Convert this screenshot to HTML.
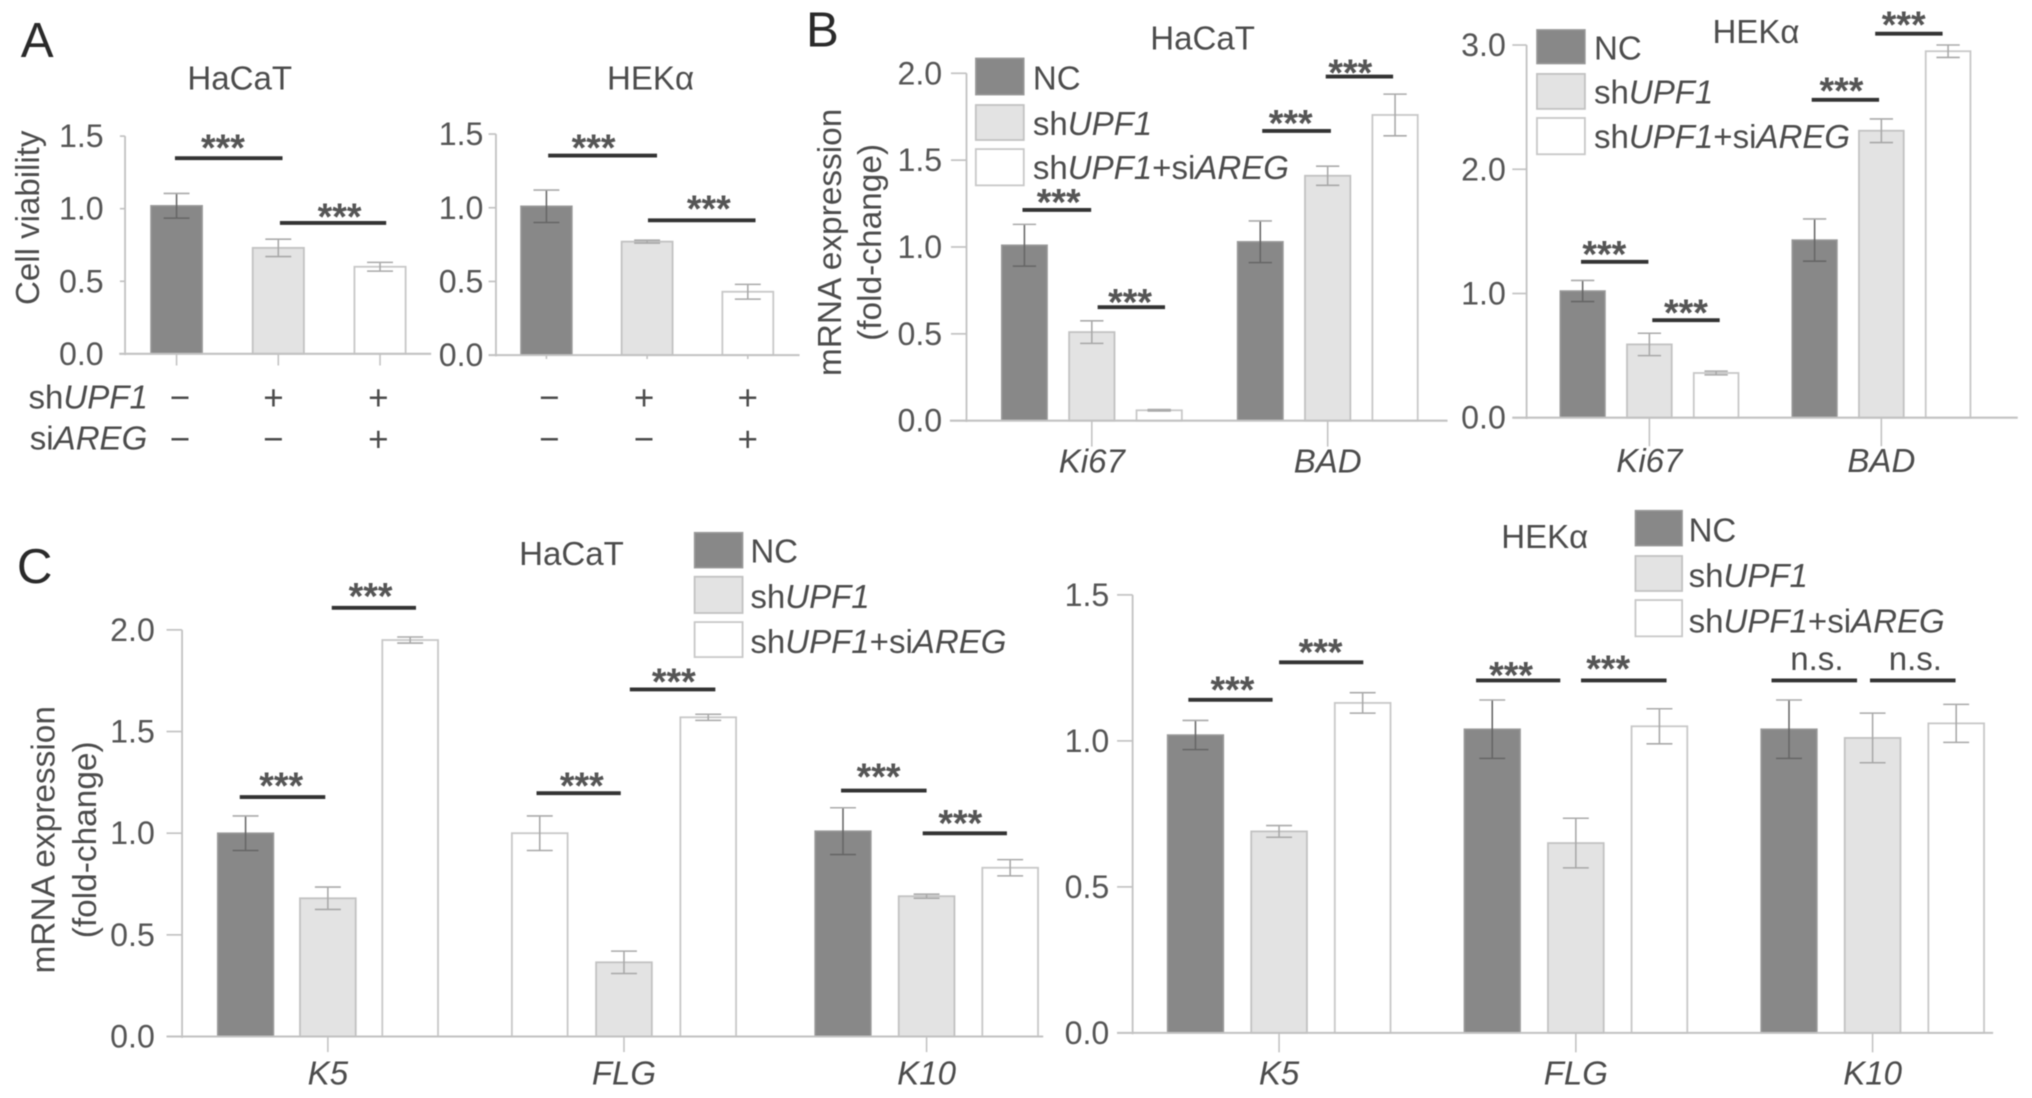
<!DOCTYPE html>
<html lang="en">
<head>
<meta charset="utf-8">
<title>Cell viability and mRNA expression bar charts</title>
<style>
html,body{margin:0;padding:0;background:#fff;width:2032px;height:1098px;overflow:hidden}
svg{display:block;filter:blur(0.6px)}
text{font-family:"Liberation Sans",sans-serif;fill:#4c4c4c;font-size:25.5px}
.i{font-style:italic}
.letter{font-size:38px;fill:#2a2a2a}
.star{font-size:29px;fill:#555;text-anchor:middle;font-weight:bold}
.ns{font-size:25.5px;text-anchor:middle}
.title{text-anchor:middle}
.axt{font-size:25.8px;text-anchor:middle}
.tick-label{font-size:24.8px;fill:#555}
.sign{text-anchor:middle;font-size:27px}
.sig{stroke:#333;stroke-width:3}
.c0{fill:#888;stroke:#999;stroke-width:1.2}
.c1{fill:#e3e3e3;stroke:#c2c2c2;stroke-width:1.4}
.c2{fill:#fff;stroke:#c8c8c8;stroke-width:1.4}
</style>
</head>
<body>
<svg id="figure" xmlns="http://www.w3.org/2000/svg" width="2032" height="1098" viewBox="0 0 1568 847.2">
  <text class="letter" x="16" y="44">A</text>
  <text class="letter" x="622" y="36">B</text>
  <text class="letter" x="13" y="450">C</text>

  <text class="title" x="185" y="69">HaCaT</text>
  <text class="title" x="502" y="69">HEKα</text>
  <text class="title" x="928" y="38">HaCaT</text>
  <text class="title" x="1355" y="33">HEKα</text>
  <text class="title" x="441" y="436">HaCaT</text>
  <text class="title" x="1192" y="423">HEKα</text>

  <text transform="translate(30,168) rotate(-90)" text-anchor="middle">Cell viability</text>
  <text class="axt" transform="translate(649,187) rotate(-90)">mRNA expression</text>
  <text class="axt" transform="translate(680,187) rotate(-90)">(fold-change)</text>
  <text class="axt" transform="translate(42,648) rotate(-90)">mRNA expression</text>
  <text class="axt" transform="translate(74,648) rotate(-90)">(fold-change)</text>

  <!-- treatment rows, panel A -->
  <text x="22" y="315">sh<tspan class="i">UPF1</tspan></text>
  <text x="23" y="347">si<tspan class="i">AREG</tspan></text>
  <g>
    <text class="sign" x="139" y="316">−</text>
    <text class="sign" x="211" y="316">+</text>
    <text class="sign" x="292" y="316">+</text>
    <text class="sign" x="139" y="348">−</text>
    <text class="sign" x="211" y="348">−</text>
    <text class="sign" x="292" y="348">+</text>
    <text class="sign" x="424" y="316">−</text>
    <text class="sign" x="497" y="316">+</text>
    <text class="sign" x="577" y="316">+</text>
    <text class="sign" x="424" y="348">−</text>
    <text class="sign" x="497" y="348">−</text>
    <text class="sign" x="577" y="348">+</text>
  </g>

  <!-- legends -->
  <g>
    <rect class="c0" x="753" y="45" width="37" height="28"/>
    <rect class="c1" x="753" y="81" width="37" height="27"/>
    <rect class="c2" x="753" y="115" width="37" height="28"/>
    <text x="797" y="69">NC</text>
    <text x="797" y="104">sh<tspan class="i">UPF1</tspan></text>
    <text x="797" y="138">sh<tspan class="i">UPF1</tspan>+si<tspan class="i">AREG</tspan></text>
  </g>
  <g>
    <rect class="c0" x="1186" y="23" width="37" height="26"/>
    <rect class="c1" x="1186" y="57" width="37" height="27"/>
    <rect class="c2" x="1186" y="91" width="37" height="28"/>
    <text x="1230" y="46">NC</text>
    <text x="1230" y="80">sh<tspan class="i">UPF1</tspan></text>
    <text x="1230" y="114">sh<tspan class="i">UPF1</tspan>+si<tspan class="i">AREG</tspan></text>
  </g>
  <g>
    <rect class="c0" x="536" y="411" width="37" height="27"/>
    <rect class="c1" x="536" y="445" width="37" height="28"/>
    <rect class="c2" x="536" y="480" width="37" height="27"/>
    <text x="579" y="434">NC</text>
    <text x="579" y="469">sh<tspan class="i">UPF1</tspan></text>
    <text x="579" y="504">sh<tspan class="i">UPF1</tspan>+si<tspan class="i">AREG</tspan></text>
  </g>
  <g>
    <rect class="c0" x="1262" y="394" width="36" height="27"/>
    <rect class="c1" x="1262" y="429" width="36" height="27"/>
    <rect class="c2" x="1262" y="463" width="36" height="28"/>
    <text x="1303" y="418">NC</text>
    <text x="1303" y="453">sh<tspan class="i">UPF1</tspan></text>
    <text x="1303" y="488">sh<tspan class="i">UPF1</tspan>+si<tspan class="i">AREG</tspan></text>
  </g>

  <g id="plots"></g>

  <!-- significance annotations -->
  <g>
    <line class="sig" x1="135" x2="218" y1="122" y2="122"/><text class="star" x="172" y="124">***</text>
    <line class="sig" x1="216" x2="298" y1="172" y2="172"/><text class="star" x="262" y="177">***</text>
    <line class="sig" x1="423" x2="507" y1="120" y2="120"/><text class="star" x="458" y="124">***</text>
    <line class="sig" x1="500" x2="583" y1="170" y2="170"/><text class="star" x="547" y="171">***</text>

    <line class="sig" x1="789" x2="842" y1="162" y2="162"/><text class="star" x="817" y="166">***</text>
    <line class="sig" x1="847" x2="899" y1="237" y2="237"/><text class="star" x="872" y="243">***</text>
    <line class="sig" x1="974" x2="1027" y1="101" y2="101"/><text class="star" x="996" y="105">***</text>
    <line class="sig" x1="1023" x2="1075" y1="59" y2="59"/><text class="star" x="1042" y="66">***</text>

    <line class="sig" x1="1220" x2="1272" y1="202" y2="202"/><text class="star" x="1238" y="206">***</text>
    <line class="sig" x1="1275" x2="1327" y1="247" y2="247"/><text class="star" x="1301" y="251">***</text>
    <line class="sig" x1="1398" x2="1450" y1="77" y2="77"/><text class="star" x="1421" y="80">***</text>
    <line class="sig" x1="1447" x2="1499" y1="26" y2="26"/><text class="star" x="1469" y="29">***</text>

    <line class="sig" x1="185" x2="251" y1="615" y2="615"/><text class="star" x="217" y="616">***</text>
    <line class="sig" x1="256" x2="321" y1="469" y2="469"/><text class="star" x="286" y="470">***</text>
    <line class="sig" x1="414" x2="479" y1="612" y2="612"/><text class="star" x="449" y="616">***</text>
    <line class="sig" x1="486" x2="552" y1="532" y2="532"/><text class="star" x="520" y="536">***</text>
    <line class="sig" x1="649" x2="715" y1="610" y2="610"/><text class="star" x="678" y="609">***</text>
    <line class="sig" x1="712" x2="777" y1="643" y2="643"/><text class="star" x="741" y="645">***</text>

    <line class="sig" x1="917" x2="982" y1="540" y2="540"/><text class="star" x="951" y="542">***</text>
    <line class="sig" x1="987" x2="1052" y1="511" y2="511"/><text class="star" x="1019" y="513">***</text>
    <line class="sig" x1="1139" x2="1204" y1="525" y2="525"/><text class="star" x="1166" y="531">***</text>
    <line class="sig" x1="1220" x2="1286" y1="525" y2="525"/><text class="star" x="1241" y="526">***</text>
    <line class="sig" x1="1367" x2="1433" y1="525" y2="525"/><text class="ns" x="1402" y="517">n.s.</text>
    <line class="sig" x1="1443" x2="1509" y1="525" y2="525"/><text class="ns" x="1478" y="517">n.s.</text>
  </g>
</svg>
<script>
// ----- chart data -----
const viabilityTicks = ['0.0', '0.5', '1.0', '1.5'];
const viabilityTickValues = [0, 0.5, 1.0, 1.5];
const aHacatValues = [[1.02], [0.73], [0.60]];
const aHacatErrors = [[0.085], [0.06], [0.03]];
const aHekaValues = [[1.01], [0.77], [0.43]];
const aHekaErrors = [[0.11], [0.01], [0.05]];

const bHacatTicks = ['0.0', '0.5', '1.0', '1.5', '2.0'];
const bHacatTickValues = [0, 0.5, 1.0, 1.5, 2.0];
const bCategories = ['Ki67', 'BAD'];
const bHacatValues = [[1.01, 0.51, 0.06], [1.03, 1.41, 1.76]];
const bHacatErrors = [[0.12, 0.065, 0.004], [0.12, 0.055, 0.12]];

const bHekaTicks = ['0.0', '1.0', '2.0', '3.0'];
const bHekaTickValues = [0, 1.0, 2.0, 3.0];
const bHekaValues = [[1.02, 0.59, 0.36], [1.43, 2.31, 2.95]];
const bHekaErrors = [[0.085, 0.09, 0.015], [0.17, 0.095, 0.05]];

const cCategories = ['K5', 'FLG', 'K10'];
const cHacatTicks = ['0.0', '0.5', '1.0', '1.5', '2.0'];
const cHacatTickValues = [0, 0.5, 1.0, 1.5, 2.0];
const cHacatValues = [[1.0, 0.68, 1.95], [1.0, 0.365, 1.57], [1.01, 0.69, 0.83]];
const cHacatErrors = [[0.085, 0.055, 0.015], [0.085, 0.055, 0.015], [0.115, 0.01, 0.04]];

const cHekaTicks = ['0.0', '0.5', '1.0', '1.5'];
const cHekaTickValues = [0, 0.5, 1.0, 1.5];
const cHekaValues = [[1.02, 0.69, 1.13], [1.04, 0.65, 1.05], [1.04, 1.01, 1.06]];
const cHekaErrors = [[0.05, 0.02, 0.035], [0.10, 0.085, 0.06], [0.10, 0.085, 0.065]];

// ----- rendering -----
const NS = 'http://www.w3.org/2000/svg';
const plots = document.getElementById('plots');

function mk(tag, parent, attrs, name) {
  const el = document.createElementNS(NS, tag);
  for (const k in attrs) el.setAttribute(k, attrs[k]);
  
  
  parent.appendChild(el);
  return el;
}

function drawPanel(p) {
  const g = mk('g', plots, {}, p.name);
  const maxV = p.tickValues[p.tickValues.length - 1];
  const y = v => p.y0 - v * (p.y0 - p.yTop) / maxV;
  const x = (gi, si) => p.groupLayout
    ? p.groupLayout[gi][0] + si * p.groupLayout[gi][1]
    : p.x0 + gi * p.groupStep + si * p.barStep;
  const axisColor = '#c2c2c2';

  // y axis
  mk('line', g, {x1: p.ax, x2: p.ax, y1: y(maxV), y2: p.y0 + 1, stroke: axisColor, 'stroke-width': 1.4}, 'y-axis');
  p.tickValues.forEach((t, i) => {
    mk('line', g, {x1: p.ax - p.tickLen, x2: p.ax, y1: y(t), y2: y(t), stroke: axisColor, 'stroke-width': 1.3}, 'y-tick');
    const lbl = mk('text', g, {class: 'tick-label', x: p.labelX, y: y(t) + 8.5, 'text-anchor': 'end'}, 'y-tick-label');
    lbl.textContent = p.ticks[i];
  });

  // bars + errors
  p.values.forEach((grp, gi) => {
    grp.forEach((v, si) => {
      const series = p.seriesOf ? p.seriesOf(gi, si) : si;
      const bx = x(gi, si);
      mk('rect', g, {class: 'c' + series, x: bx, y: y(v), width: p.barW, height: p.y0 - y(v)}, 'bar');
      const cx = bx + p.barW / 2, e = p.errors[gi][si];
      const col = series === 0 ? '#666' : '#a8a8a8';
      mk('line', g, {x1: cx, x2: cx, y1: y(v + e), y2: y(v - e), stroke: col, 'stroke-width': 1.2}, 'error-bar');
      mk('line', g, {x1: cx - p.cap, x2: cx + p.cap, y1: y(v + e), y2: y(v + e), stroke: '#aaa', 'stroke-width': 1.2}, 'error-cap-upper');
      mk('line', g, {x1: cx - p.cap, x2: cx + p.cap, y1: y(v - e), y2: y(v - e), stroke: col, 'stroke-width': 1.2}, 'error-cap-lower');
    });
  });

  // x axis on top of the bars' feet
  mk('line', g, {x1: p.xa, x2: p.xb, y1: p.y0, y2: p.y0, stroke: axisColor, 'stroke-width': 1.6}, 'x-axis');

  // x ticks + category labels
  p.values.forEach((grp, gi) => {
    const cx = x(gi, (grp.length - 1) / 2) + p.barW / 2;
    mk('line', g, {x1: cx, x2: cx, y1: p.y0, y2: p.y0 + p.xTickLen, stroke: axisColor, 'stroke-width': 1.2}, 'x-tick');
    if (p.categories) {
      const t = mk('text', g, {class: 'i', x: cx, y: p.y0 + p.catDy, 'text-anchor': 'middle'}, 'x-category-label');
      t.textContent = p.categories[gi];
    }
  });
}

drawPanel({name: 'panel-a-hacat', values: aHacatValues, errors: aHacatErrors, ticks: viabilityTicks, tickValues: viabilityTickValues,
  seriesOf: gi => gi, ax: 96.5, tickLen: 4, labelX: 80, xa: 92, xb: 332.7, y0: 273, yTop: 105, x0: 116.5, groupStep: 78.5, barStep: 0, barW: 39.5, cap: 10, xTickLen: 9});
drawPanel({name: 'panel-a-heka', values: aHekaValues, errors: aHekaErrors, ticks: viabilityTicks, tickValues: viabilityTickValues,
  seriesOf: gi => gi, ax: 382.7, tickLen: 5.7, labelX: 373, xa: 377, xb: 617, y0: 274, yTop: 103.4, x0: 402, groupStep: 77.7, barStep: 0, barW: 39.3, cap: 10, xTickLen: 3});
drawPanel({name: 'panel-b-hacat', values: bHacatValues, errors: bHacatErrors, ticks: bHacatTicks, tickValues: bHacatTickValues, categories: bCategories,
  ax: 745.8, tickLen: 12, labelX: 727, xa: 733, xb: 1117, y0: 324.6, yTop: 56.5, x0: 773, groupStep: 182, barStep: 52, barW: 35, cap: 9, xTickLen: 20, catDy: 40});
drawPanel({name: 'panel-b-heka', values: bHekaValues, errors: bHekaErrors, ticks: bHekaTicks, tickValues: bHekaTickValues, categories: bCategories,
  ax: 1178, tickLen: 11, labelX: 1162, xa: 1167, xb: 1557, y0: 322.3, yTop: 34.7, x0: 1204, groupStep: 179, barStep: 51.5, barW: 34.5, cap: 9, xTickLen: 22, catDy: 42});
drawPanel({name: 'panel-c-hacat', values: cHacatValues, errors: cHacatErrors, ticks: cHacatTicks, tickValues: cHacatTickValues, categories: cCategories,
  seriesOf: (gi, si) => (gi === 1 && si === 0) ? 2 : si,
  groupLayout: [[168, 63.5], [395, 65], [629, 64.5]],
  ax: 140.5, tickLen: 12, labelX: 119.5, xa: 128.5, xb: 805, y0: 799.8, yTop: 486, barW: 43, cap: 10, xTickLen: 12, catDy: 37});
drawPanel({name: 'panel-c-heka', values: cHekaValues, errors: cHekaErrors, ticks: cHekaTicks, tickValues: cHekaTickValues, categories: cCategories,
  ax: 874, tickLen: 12, labelX: 856, xa: 862, xb: 1538, y0: 797, yTop: 459, x0: 901, groupStep: 229, barStep: 64.5, barW: 43, cap: 10, xTickLen: 15, catDy: 40});
</script>
</body>
</html>
